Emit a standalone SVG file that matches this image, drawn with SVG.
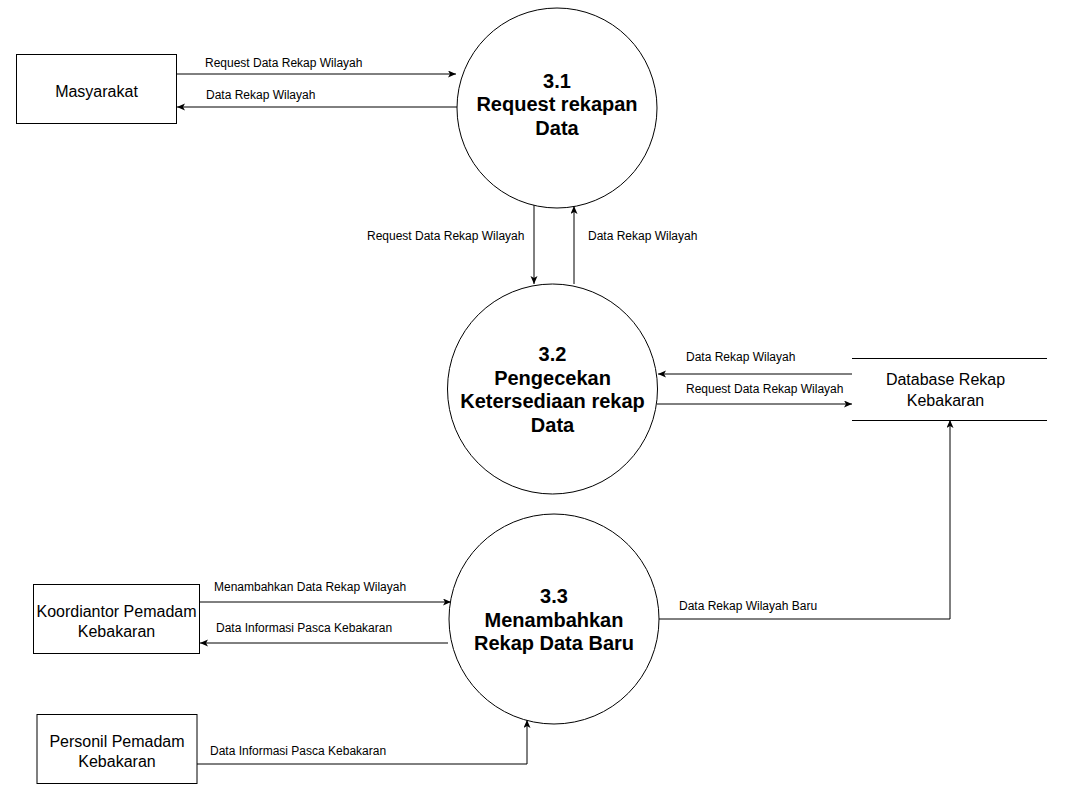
<svg xmlns="http://www.w3.org/2000/svg" width="1077" height="803" viewBox="0 0 1077 803">
<defs>
<marker id="arr" markerUnits="userSpaceOnUse" markerWidth="10" markerHeight="10" refX="8" refY="3.5" orient="auto">
<path d="M0,0 L8,3.5 L0,7 L2,3.5 z" fill="#000"/>
</marker>
<style>
.box{fill:#fff;stroke:#000;stroke-width:1}
.proc{fill:#fff;stroke:#000;stroke-width:1}
.ln{fill:none;stroke:#000;stroke-width:1}
.ea{fill:none;stroke:#000;stroke-width:1;marker-end:url(#arr)}
.lbl{font-family:"Liberation Sans",Arial,sans-serif;font-size:12px;fill:#000}
.nt{font-family:"Liberation Sans",Arial,sans-serif;font-size:16px;fill:#000;text-anchor:middle}
.pt{font-family:"Liberation Sans",Arial,sans-serif;font-size:20px;font-weight:bold;fill:#000;text-anchor:middle}
</style>
</defs>
<rect width="1077" height="803" fill="#fff"/>
<g id="connectors">
<line class="ea" x1="177" y1="74" x2="456" y2="74"/>
<line class="ea" x1="457" y1="107" x2="177" y2="107"/>
<line class="ea" x1="534" y1="204" x2="534" y2="284"/>
<line class="ea" x1="574" y1="284" x2="574" y2="206"/>
<line class="ea" x1="852" y1="374" x2="658" y2="374"/>
<line class="ea" x1="657" y1="404" x2="852" y2="404"/>
<line class="ea" x1="200" y1="602" x2="451" y2="602"/>
<line class="ea" x1="448" y1="643" x2="200" y2="643"/>
<polyline class="ea" points="197,764 527,764 527,720"/>
<polyline class="ea" points="659,619 950,619 950,420"/>
<text class="lbl" x="205" y="67">Request Data Rekap Wilayah</text>
<text class="lbl" x="206" y="99">Data Rekap Wilayah</text>
<text class="lbl" x="367" y="240">Request Data Rekap Wilayah</text>
<text class="lbl" x="588" y="240">Data Rekap Wilayah</text>
<text class="lbl" x="686" y="361">Data Rekap Wilayah</text>
<text class="lbl" x="686" y="393">Request Data Rekap Wilayah</text>
<text class="lbl" x="214" y="591">Menambahkan Data Rekap Wilayah</text>
<text class="lbl" x="216" y="632">Data Informasi Pasca Kebakaran</text>
<text class="lbl" x="210" y="755">Data Informasi Pasca Kebakaran</text>
<text class="lbl" x="679" y="610">Data Rekap Wilayah Baru</text>
</g>
<g id="masyarakat">
<rect class="box" x="16.5" y="54.5" width="160" height="69"/>
<text class="nt" x="96.5" y="96.5">Masyarakat</text>
</g>
<g id="p31">
<circle class="proc" cx="557" cy="108" r="100"/>
<text class="pt" x="557" y="88">3.1</text>
<text class="pt" x="557" y="111">Request rekapan</text>
<text class="pt" x="557" y="134.5">Data</text>
</g>
<g id="p32">
<circle class="proc" cx="552.5" cy="389" r="105"/>
<text class="pt" x="552.5" y="361">3.2</text>
<text class="pt" x="552.5" y="384.5">Pengecekan</text>
<text class="pt" x="552.5" y="408">Ketersediaan rekap</text>
<text class="pt" x="552.5" y="432">Data</text>
</g>
<g id="p33">
<circle class="proc" cx="554" cy="619" r="105"/>
<text class="pt" x="554" y="603">3.3</text>
<text class="pt" x="554" y="627">Menambahkan</text>
<text class="pt" x="554" y="650">Rekap Data Baru</text>
</g>
<g id="database">
<line class="ln" x1="852" y1="358.5" x2="1047" y2="358.5"/>
<line class="ln" x1="852" y1="420.5" x2="1047" y2="420.5"/>
<text class="nt" x="945.5" y="385">Database Rekap</text>
<text class="nt" x="945.5" y="406">Kebakaran</text>
</g>
<g id="koordinator">
<rect class="box" x="33.5" y="584.5" width="166" height="69"/>
<text class="nt" x="116.5" y="616.5">Koordiantor Pemadam</text>
<text class="nt" x="116.5" y="636.5">Kebakaran</text>
</g>
<g id="personil">
<rect class="box" x="37" y="714.5" width="160" height="69"/>
<text class="nt" x="117" y="746.5">Personil Pemadam</text>
<text class="nt" x="117" y="766.5">Kebakaran</text>
</g>
</svg>
